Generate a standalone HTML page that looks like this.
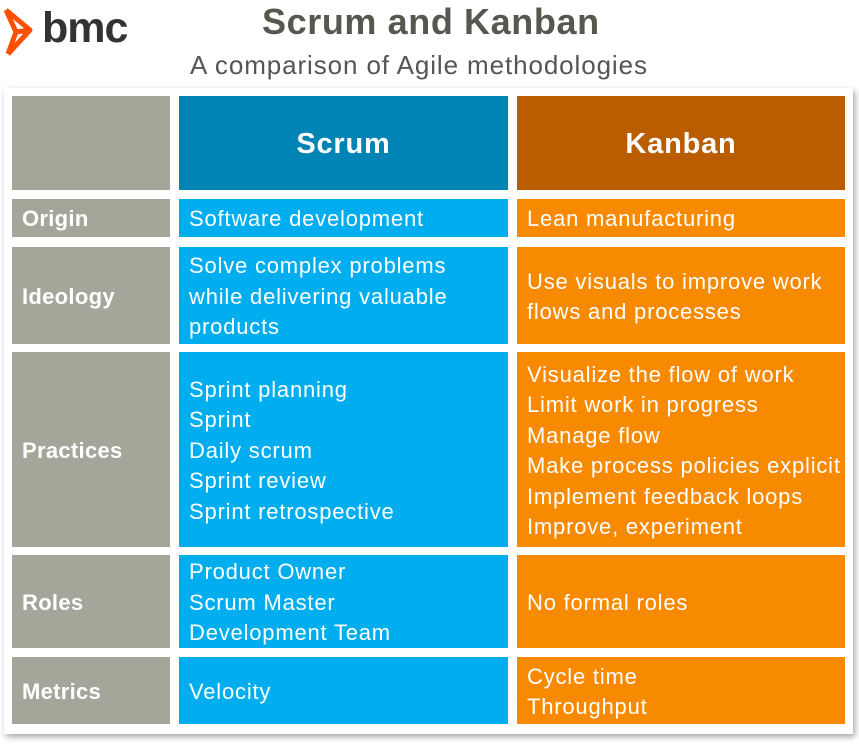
<!DOCTYPE html>
<html><head><meta charset="utf-8"><style>
body{margin:0;width:859px;height:753px;background:#fff;position:relative;overflow:hidden;font-family:"Liberation Sans",sans-serif}
.c{position:absolute;color:#fff;font-size:22px;line-height:30.5px;letter-spacing:0.8px;box-sizing:border-box;padding-left:10px;padding-top:3px;display:flex;flex-direction:column;justify-content:center;white-space:nowrap}
.g{background:#a5a69a;font-weight:bold;letter-spacing:0.3px}
.s{background:#00aeef}
.k{background:#f78a00}
.box{position:absolute;left:4px;top:88px;width:849px;height:646px;background:#fff;box-shadow:2px 3px 6px rgba(0,0,0,.35)}
</style></head><body>
<svg style="position:absolute;left:0px;top:6px" width="40" height="52" viewBox="0 0 40 52"><path d="M6 4 L30 24 L8 48 M6 4 L16 26 L8 48 M30 24 L16 26" fill="none" stroke="#fe5000" stroke-width="5" stroke-linejoin="round"/></svg>
<div style="position:absolute;left:42px;top:4px;font-size:43px;font-weight:bold;color:#333;letter-spacing:-1px">bmc</div>
<div style="position:absolute;left:262px;top:1px;font-size:36px;font-weight:bold;color:#55584f;letter-spacing:0.6px">Scrum and Kanban</div>
<div style="position:absolute;left:190px;top:50px;font-size:26px;color:#555;letter-spacing:0.9px">A comparison of Agile methodologies</div>
<div class="box"></div>
<div class="c g" style="left:12px;top:96px;width:158px;height:94px"></div>
<div class="c" style="left:179px;top:96px;width:329px;height:94px;background:#0083b5;font-weight:bold;font-size:29px;align-items:center;padding:3px 0 0 0">Scrum</div>
<div class="c" style="left:517px;top:96px;width:328px;height:94px;background:#b95d00;font-weight:bold;font-size:29px;align-items:center;padding:3px 0 0 0">Kanban</div>

<div class="c g" style="left:12px;top:199px;width:158px;height:38px">Origin</div>
<div class="c s" style="left:179px;top:199px;width:329px;height:38px">Software development</div>
<div class="c k" style="left:517px;top:199px;width:328px;height:38px">Lean manufacturing</div>

<div class="c g" style="left:12px;top:247px;width:158px;height:97px">Ideology</div>
<div class="c s" style="left:179px;top:247px;width:329px;height:97px">Solve complex problems<br>while delivering valuable<br>products</div>
<div class="c k" style="left:517px;top:247px;width:328px;height:97px">Use visuals to improve work<br>flows and processes</div>

<div class="c g" style="left:12px;top:352px;width:158px;height:195px">Practices</div>
<div class="c s" style="left:179px;top:352px;width:329px;height:195px">Sprint planning<br>Sprint<br>Daily scrum<br>Sprint review<br>Sprint retrospective</div>
<div class="c k" style="left:517px;top:352px;width:328px;height:195px">Visualize the flow of work<br>Limit work in progress<br>Manage flow<br>Make process policies explicit<br>Implement feedback loops<br>Improve, experiment</div>

<div class="c g" style="left:12px;top:555px;width:158px;height:93px">Roles</div>
<div class="c s" style="left:179px;top:555px;width:329px;height:93px">Product Owner<br>Scrum Master<br>Development Team</div>
<div class="c k" style="left:517px;top:555px;width:328px;height:93px">No formal roles</div>

<div class="c g" style="left:12px;top:657px;width:158px;height:67px">Metrics</div>
<div class="c s" style="left:179px;top:657px;width:329px;height:67px">Velocity</div>
<div class="c k" style="left:517px;top:657px;width:328px;height:67px">Cycle time<br>Throughput</div>
</body></html>
